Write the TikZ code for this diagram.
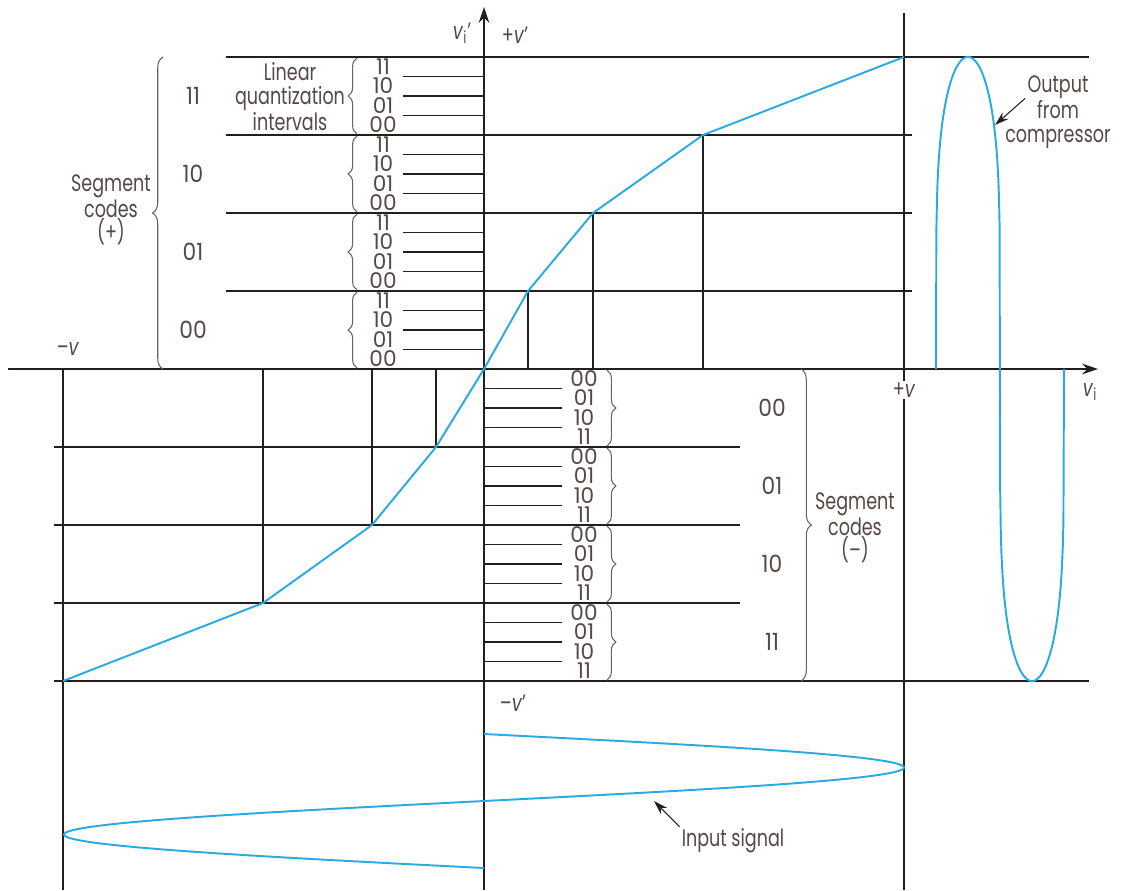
\documentclass[tikz,border=0pt]{standalone}
\usepackage{fontspec}
\setmainfont{Poppins}[FakeStretch=0.74]
\usetikzlibrary{arrows.meta, decorations.pathreplacing}
\definecolor{ink}{RGB}{35,31,32}
\definecolor{txt}{RGB}{85,72,70}
\definecolor{sig}{RGB}{41,170,225}
\tikzstyle{grid} = [draw=ink, line width=0.8pt]
\tikzstyle{axis} = [draw=ink, line width=0.9pt, -{Stealth[length=9pt,width=6pt]}]
\tikzstyle{wave} = [draw=sig, line width=1.1pt, line join=round]
\tikzstyle{lbl} = [text=txt, font=\fontsize{13.5}{13.6}\selectfont, inner sep=1pt, align=center]
\tikzstyle{seg} = [text=txt, font=\fontsize{13.5}{13.5}\selectfont\addfontfeature{FakeStretch=0.92},
    inner sep=0pt, text height=9.3pt, text depth=0pt]
\tikzstyle{code} = [text=txt, font=\fontsize{12.3}{12.3}\selectfont\addfontfeature{FakeStretch=1.0},
    inner sep=0pt, text height=8.5pt, text depth=0pt]
\tikzstyle{brc} = [draw=ink!70, line width=0.6pt, decorate, decoration={brace, amplitude=5pt}]
\tikzstyle{ptr} = [draw=ink, line width=0.6pt, -{Stealth[length=8pt,width=5pt]}]

\begin{document}
\begin{tikzpicture}[x=0.02cm, y=-0.02cm]
  \useasboundingbox (0,0) rectangle (1122,890);

  % breakpoints of the compressor curve
  \foreach \n/\x/\y in {m4/63/681, m3/263/603, m2/372/525, m1/436/447, o/484/369,
                        p1/528/291, p2/593/213, p3/703/135, p4/904/57}
    \coordinate (\n) at (\x,\y);

  % grid
  \foreach \y in {135,213,291}
    \draw[grid] (226,\y) -- (912,\y);
  \draw[grid] (226,57) -- (1089,57);
  \foreach \y in {447,525,603}
    \draw[grid] (54,\y) -- (740,\y);
  \draw[grid] (54,681) -- (1089,681);
  \foreach \n in {p1,p2,p3,m1,m2,m3}
    \draw[grid] (\n) -- (\n |- o);
  \draw[grid] (63,369) -- (63,890);

  % axes and labels
  \draw[axis] (8,369) -- (1098,369);
  \draw[axis] (484,890) -- (484,7);
  \node (pv)  [lbl] at (904,390) {+\textit{v}};
  \draw[grid] (904,13) -- (pv.north);
  \draw[grid] (pv.south) -- (904,890);
  \node (mv)  [lbl] at (68,349) {--\textit{v}};
  \node (vi)  [lbl] at (1090,392) {\textit{v}\textsubscript{i}};
  \node (vip) [lbl] at (462,33) {\textit{v}\rlap{\textsubscript{i}}\,'};
  \node (pvp) [lbl] at (515,35) {+\textit{v}'};
  \node (mvp) [lbl] at (513,703) {--\textit{v}'};

  % quantization intervals, positive side
  \foreach \s in {0,...,3}{
    \foreach \c [count=\k from 0] in {00,01,10,11}
      \node (cp\s\k) [code] at (383,{369-78*\s-19.5*\k-9.75}) {\c};
    \foreach \k in {1,2,3}
      \draw[grid] (403,{369-78*\s-19.5*\k}) -- (484,{369-78*\s-19.5*\k});
    \draw[brc] (357,{369-78*\s-1}) -- (357,{291-78*\s+1});
  }

  % quantization intervals, negative side
  \foreach \s in {0,...,3}{
    \foreach \c [count=\k from 0] in {00,01,10,11}
      \node (cm\s\k) [code] at (584,{369+78*\s+19.5*\k+9.75}) {\c};
    \foreach \k in {1,2,3}
      \draw[grid] (484,{369+78*\s+19.5*\k}) -- (562,{369+78*\s+19.5*\k});
    \draw[brc] (607,{369+78*\s+1}) -- (607,{447+78*\s-1});
  }

  % segment codes
  \foreach \c/\y in {11/96, 10/174, 01/252, 00/330}
    \node (sp\c) [seg] at (193,\y) {\c};
  \foreach \c/\y in {00/408, 01/486, 10/564, 11/642}
    \node (sm\c) [seg] at (772,\y) {\c};
  \draw[brc, decoration={amplitude=6pt}] (163,369) -- (163,57);
  \draw[brc, decoration={amplitude=6pt}] (801,369) -- (801,681);
  \node (segp) [lbl] at (111,210) {Segment\\codes\\(+)};
  \node (segm) [lbl] at (855,528) {Segment\\codes\\(--)};
  \node (lin)  [lbl] at (290,97) {Linear\\quantization\\intervals};

  % compressor characteristic
  \draw[wave] (m4) -- (m3) -- (m2) -- (m1) -- (o) -- (p1) -- (p2) -- (p3) -- (p4);

  % input signal
  \draw[wave] plot[domain=734:868, samples=121] ({484+420*sin((\x-734)/134*360)}, \x);
  \node (inlbl) [lbl] at (733,841) {Input signal};
  \coordinate (intip) at (654,801);
  \draw[ptr] (inlbl.north west) -- (intip);

  % output from compressor
  \draw[wave] (936,369) -- plot[domain=0.0025:0.9975, samples=200]
    ({936+128*\x}, {369-312*sign(sin(360*\x))*abs(sin(360*\x))^0.2}) -- (1064,369);
  \node (outlbl) [lbl] at (1058,112) {Output\\from\\compressor};
  \coordinate (outtip) at (995,125);
  \draw[ptr] ([shift={(-33,25)}]outlbl.north) -- (outtip);

\end{tikzpicture}
\end{document}
